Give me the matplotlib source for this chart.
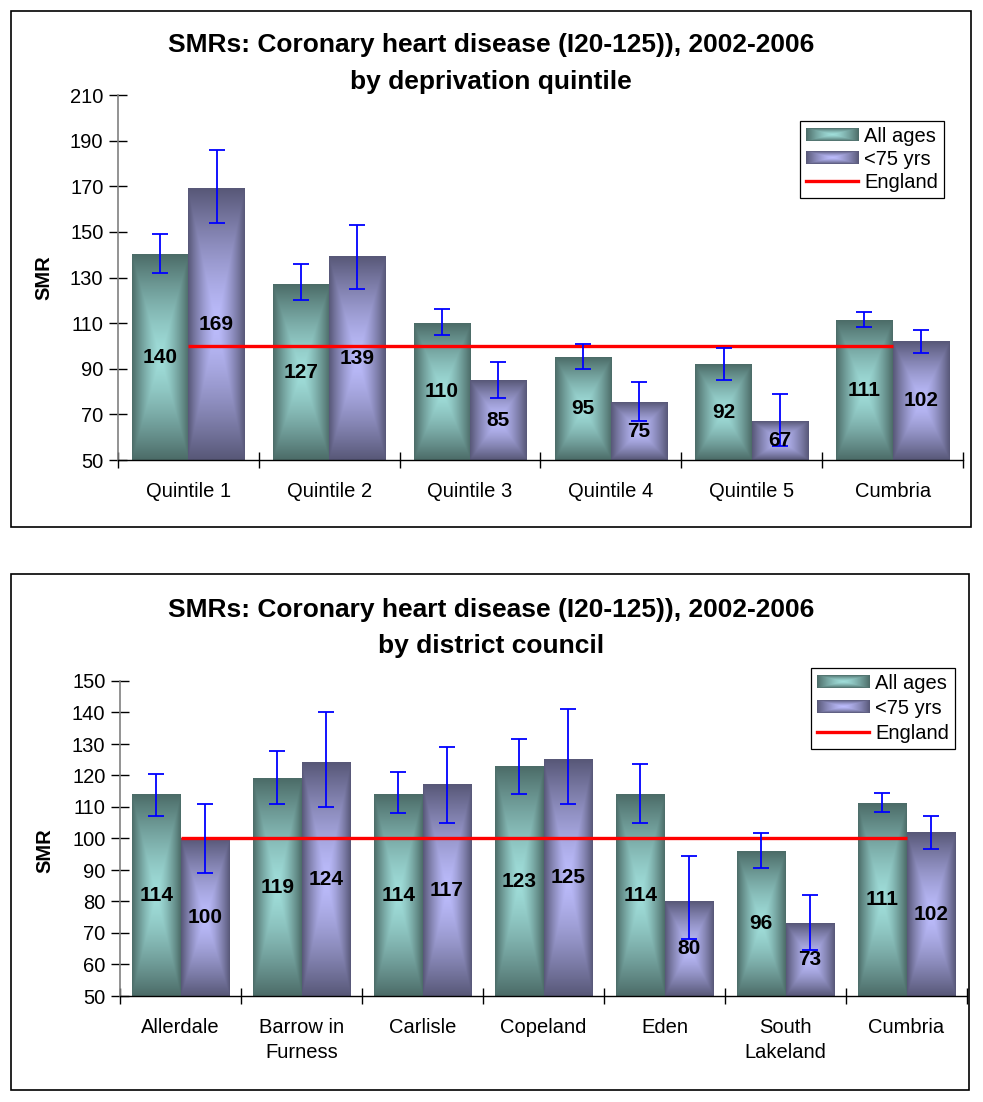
import numpy as np
import matplotlib
matplotlib.use("Agg")
import matplotlib.pyplot as plt
from matplotlib.patches import Rectangle
from matplotlib.legend_handler import HandlerBase
from matplotlib.image import BboxImage
from matplotlib.transforms import Bbox, TransformedBbox
from matplotlib.lines import Line2D

plt.rcParams['font.family'] = ['Liberation Sans', 'DejaVu Sans']

# ---------------- data ----------------
title1_a = "SMRs: Coronary heart disease (I20-125)), 2002-2006"
title1_b = "by deprivation quintile"
cats1 = ["Quintile 1", "Quintile 2", "Quintile 3", "Quintile 4", "Quintile 5", "Cumbria"]
all1 = [140, 127, 110, 95, 92, 111]
all1_lo = [132, 120, 105, 90, 85, 108.5]
all1_hi = [149, 136, 116, 101, 99, 115]
u75_1 = [169, 139, 85, 75, 67, 102]
u75_1_lo = [154, 125, 77, 67, 56, 97]
u75_1_hi = [186, 153, 93, 84, 79, 107]
eng1 = [100, 100, 100, 100, 100, 100]
yticks1 = [50, 70, 90, 110, 130, 150, 170, 190, 210]

title2_a = "SMRs: Coronary heart disease (I20-125)), 2002-2006"
title2_b = "by district council"
cats2 = ["Allerdale", "Barrow in\nFurness", "Carlisle", "Copeland", "Eden", "South\nLakeland", "Cumbria"]
all2 = [114, 119, 114, 123, 114, 96, 111]
all2_lo = [107, 111, 108, 114, 105, 90.6, 108.4]
all2_hi = [120.4, 127.7, 121, 131.6, 123.5, 101.7, 114.4]
u75_2 = [100, 124, 117, 125, 80, 73, 102]
u75_2_lo = [89, 110, 105, 111, 68, 64.6, 96.6]
u75_2_hi = [111, 140, 129, 141, 94.6, 82, 107]
eng2 = [100, 100, 100, 100, 100, 100, 100]
yticks2 = [50, 60, 70, 80, 90, 100, 110, 120, 130, 140, 150]

series_names = ["All ages", "<75 yrs", "England"]

# ---------------- style ----------------
TEAL_L = np.array([160, 222, 218]) / 255
TEAL_D = np.array([76, 108, 104]) / 255
PURP_L = np.array([188, 188, 252]) / 255
PURP_D = np.array([88, 88, 120]) / 255
FS = 14.5


def grad_img(light, dark, n=120, p=1.4):
    u = np.linspace(-1, 1, n)
    U, V = np.meshgrid(u, u)
    t = np.maximum(np.abs(U), np.abs(V)) ** p
    img = light[None, None, :] * (1 - t[..., None]) + dark[None, None, :] * t[..., None]
    return np.clip(img, 0, 1)


IMG_TEAL = grad_img(TEAL_L, TEAL_D)
IMG_PURP = grad_img(PURP_L, PURP_D)


class GradHandler(HandlerBase):
    def __init__(self, img):
        super().__init__()
        self.img = img

    def create_artists(self, legend, orig_handle, xdescent, ydescent, width, height, fontsize, trans):
        bb = TransformedBbox(Bbox.from_bounds(-xdescent, -ydescent, width, height), trans)
        im = BboxImage(bb, interpolation='bilinear')
        im.set_data(self.img)
        return [im]


def draw_chart(fig, rect, cats, a, alo, ahi, b, blo, bhi, eng, yticks,
               t1, t2, tpos, frame, ylabel_pos, leg_anchor, leg_spacing):
    ax = fig.add_axes(rect)
    n = len(cats)
    x = np.arange(n)
    w = 0.4
    ymin, ymax = yticks[0], yticks[-1]
    barsA = ax.bar(x - w / 2, a, w, color=TEAL_D, zorder=1)
    barsB = ax.bar(x + w / 2, b, w, color=PURP_D, zorder=1)
    for bars, img in ((barsA, IMG_TEAL), (barsB, IMG_PURP)):
        for p in bars:
            x0 = p.get_x()
            ax.imshow(img, extent=(x0, x0 + p.get_width(), ymin, p.get_height()),
                      aspect='auto', interpolation='bilinear', zorder=2)
    a_ = np.array(a); b_ = np.array(b)
    ax.plot(x, eng, color='#ff0000', lw=2.4, zorder=3, solid_capstyle='butt')
    ax.errorbar(x - w / 2, a_, yerr=[a_ - np.array(alo), np.array(ahi) - a_], fmt='none',
                ecolor='#0000ff', elinewidth=1.3, capsize=5.5, capthick=1.3, zorder=4)
    ax.errorbar(x + w / 2, b_, yerr=[b_ - np.array(blo), np.array(bhi) - b_], fmt='none',
                ecolor='#0000ff', elinewidth=1.3, capsize=5.5, capthick=1.3, zorder=4)
    for xs, vals in ((x - w / 2, a), (x + w / 2, b)):
        for xi, v in zip(xs, vals):
            ax.text(xi, (ymin + v) / 2, f"{v:g}", ha='center', va='center',
                    fontsize=FS + 0.5, fontweight='bold', zorder=5)
    ax.set_xlim(-0.5, n - 0.5)
    ax.set_ylim(ymin, ymax)
    ax.set_yticks(yticks)
    ax.set_xticks(x)
    ax.set_xticklabels(cats, fontsize=FS, linespacing=1.4)
    ax.set_xticks(np.arange(n + 1) - 0.5, minor=True)
    ax.tick_params(axis='x', which='major', length=0, pad=16)
    ax.tick_params(axis='x', which='minor', length=11, direction='inout', width=1)
    ax.tick_params(axis='y', which='major', length=13, direction='inout', width=1,
                   labelsize=FS, pad=4)
    for s in ('top', 'right'):
        ax.spines[s].set_visible(False)
    ax.spines['left'].set_color('#808080')
    ax.spines['bottom'].set_color('#000000')
    ax.spines['left'].set_linewidth(1.2)
    ax.spines['bottom'].set_linewidth(1.0)
    ax.set_ylabel("SMR", fontsize=FS, fontweight='bold')
    ax.yaxis.set_label_coords(*ylabel_pos)
    handles = [Rectangle((0, 0), 1, 1), Rectangle((0, 0), 1, 1),
               Line2D([0], [0], color='#ff0000', lw=2.4)]
    hmap = {handles[0]: GradHandler(IMG_TEAL), handles[1]: GradHandler(IMG_PURP)}
    leg = ax.legend(handles, series_names, loc='upper right', bbox_to_anchor=leg_anchor,
                    borderaxespad=0, fontsize=FS, frameon=True, fancybox=False,
                    edgecolor='#000000', framealpha=1, handlelength=2.6, handleheight=0.6,
                    handletextpad=0.3, labelspacing=leg_spacing, borderpad=0.3,
                    handler_map=hmap)
    leg.get_frame().set_linewidth(0.9)
    leg.set_zorder(10)
    fig.text(0.4995, tpos[0], t1, ha='center', va='center', fontsize=19, fontweight='bold')
    fig.text(0.4995, tpos[1], t2, ha='center', va='center', fontsize=19, fontweight='bold')
    fig.add_artist(Rectangle((frame[0], frame[1]), frame[2] - frame[0], frame[3] - frame[1],
                             transform=fig.transFigure, fill=False, ec='black', lw=1.2))
    return ax


W, H = 983, 1102
fig = plt.figure(figsize=(W / 100, H / 100), dpi=100)


def fx(px):
    return px / W


def fy(py):
    return 1 - py / H


# top chart: axes x 118..963, y 95..460
draw_chart(fig, [fx(118), fy(460), fx(963) - fx(118), fy(95) - fy(460)],
           cats1, all1, all1_lo, all1_hi, u75_1, u75_1_lo, u75_1_hi, eng1, yticks1,
           title1_a, title1_b, (fy(45), fy(82)),
           (fx(11), fy(527), fx(971), fy(11)), (-0.077, 0.5), (0.9775, 0.9288), 0.2)

# bottom chart: axes x 120..967, y 681..996
draw_chart(fig, [fx(120), fy(996), fx(967) - fx(120), fy(681) - fy(996)],
           cats2, all2, all2_lo, all2_hi, u75_2, u75_2_lo, u75_2_hi, eng2, yticks2,
           title2_a, title2_b, (fy(610), fy(646)),
           (fx(11), fy(1090), fx(969), fy(574)), (-0.077, 0.463), (0.9858, 1.041), 0.3)

fig.savefig("out.png", dpi=100)
